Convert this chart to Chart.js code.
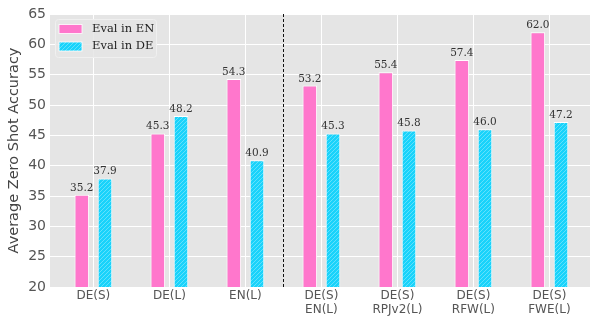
<!DOCTYPE html>
<html>
<head>
<meta charset="utf-8">
<script src="https://cdn.jsdelivr.net/npm/chart.js@4"></script>
<style>
  body { margin: 0; background: #fff; }
</style>
</head>
<body>
<canvas id="myChart" width="590" height="316"></canvas>
<script>
var categories = ['DE(S)', 'DE(L)', 'EN(L)', ['DE(S)', 'EN(L)'], ['DE(S)', 'RPJv2(L)'], ['DE(S)', 'RFW(L)'], ['DE(S)', 'FWE(L)']];
var evalEN = [35.2, 45.3, 54.3, 53.2, 55.4, 57.4, 62.0];
var evalDE = [37.9, 48.2, 40.9, 45.3, 45.8, 46.0, 47.2];
var seriesNames = ['Eval in EN', 'Eval in DE'];
var yTicks = [20, 25, 30, 35, 40, 45, 50, 55, 60, 65];
var splitAt = 2.5; // dashed line between single and mixed runs

var pink = '#ff77cc';
var cyan = '#19d3fb';

// hatched fill for the DE bars
function hatch(color) {
  var c = document.createElement('canvas');
  c.width = 4;
  c.height = 4;
  var g = c.getContext('2d');
  g.fillStyle = color;
  g.fillRect(0, 0, 4, 4);
  g.strokeStyle = 'rgba(255,255,255,0.45)';
  g.lineWidth = 0.7;
  g.beginPath();
  g.moveTo(0, 4); g.lineTo(4, 0);
  g.moveTo(-1, 1); g.lineTo(1, -1);
  g.moveTo(3, 5); g.lineTo(5, 3);
  g.stroke();
  return g.createPattern(c, 'repeat');
}

function points(vals) {
  return vals.map((v, i) => ({x: i, y: v}));
}

var plotBg = {
  id: 'plotBg',
  beforeDraw(chart) {
    var a = chart.chartArea, ctx = chart.ctx;
    ctx.save();
    ctx.fillStyle = '#e5e5e5';
    ctx.fillRect(a.left, a.top, a.right - a.left, a.bottom - a.top);
    ctx.restore();
  }
};

var extras = {
  id: 'extras',
  afterDatasetsDraw(chart) {
    var ctx = chart.ctx, a = chart.chartArea;
    ctx.save();
    // dashed divider
    var x = chart.scales.x.getPixelForValue(splitAt);
    ctx.strokeStyle = '#111';
    ctx.lineWidth = 1;
    ctx.setLineDash([3, 2]);
    ctx.beginPath();
    ctx.moveTo(Math.round(x) + 0.5, a.top);
    ctx.lineTo(Math.round(x) + 0.5, a.bottom);
    ctx.stroke();
    ctx.setLineDash([]);

    // value labels
    ctx.font = '10.5px "DejaVu Serif"';
    ctx.fillStyle = '#333';
    ctx.textAlign = 'center';
    ctx.textBaseline = 'bottom';
    chart.data.datasets.forEach((ds, di) => {
      chart.getDatasetMeta(di).data.forEach((bar, i) => {
        ctx.fillText(ds.data[i].y.toFixed(1), bar.x, bar.y - 1.5);
      });
    });

    // legend box
    var bx = a.left + 5, by = a.top + 5, bw = 101, bh = 38;
    ctx.fillStyle = 'rgba(229,229,229,0.85)';
    ctx.strokeStyle = '#f0f0f0';
    ctx.beginPath();
    ctx.roundRect(bx + 0.5, by + 0.5, bw, bh, 3);
    ctx.fill();
    ctx.stroke();
    ctx.font = '11.5px "DejaVu Serif"';
    ctx.textAlign = 'left';
    ctx.textBaseline = 'middle';
    chart.data.datasets.forEach((ds, di) => {
      var ry = by + 10 + di * 17.5;
      ctx.fillStyle = ds.backgroundColor;
      ctx.fillRect(bx + 4, ry - 4.5, 23, 9);
      ctx.strokeStyle = '#fff';
      ctx.lineWidth = 0.8;
      ctx.strokeRect(bx + 4, ry - 4.5, 23, 9);
      ctx.fillStyle = '#222';
      ctx.fillText(ds.label, bx + 37, ry);
    });
    ctx.restore();
  }
};

var chart = new Chart(document.getElementById('myChart'), {
  type: 'bar',
  data: {
    datasets: [{
      label: seriesNames[0],
      data: points(evalEN),
      backgroundColor: pink,
      borderColor: '#fff',
      borderWidth: 1
    }, {
      label: seriesNames[1],
      data: points(evalDE),
      backgroundColor: hatch(cyan),
      borderColor: '#fff',
      borderWidth: 1
    }]
  },
  options: {
    responsive: false,
    animation: false,
    categoryPercentage: 0.61,
    barPercentage: 0.63,
    layout: { padding: { top: 14, right: 0, left: 0, bottom: 0 } },
    plugins: {
      legend: { display: false },
      tooltip: { enabled: false }
    },
    scales: {
      x: {
        type: 'linear',
        offset: false,
        min: -0.571,
        max: 6.534,
        afterBuildTicks: axis => { axis.ticks = categories.map((c, i) => ({value: i})); },
        afterFit: s => { s.height = 29; },
        ticks: {
          autoSkip: false,
          maxRotation: 0,
          padding: 2,
          color: '#555',
          font: { family: 'DejaVu Sans', size: 12, lineHeight: 1.15 },
          callback: v => categories[v]
        },
        grid: { color: '#fff', lineWidth: 1, drawTicks: false, offset: false },
        border: { display: false }
      },
      y: {
        min: 20,
        max: 65,
        afterBuildTicks: axis => { axis.ticks = yTicks.map(v => ({value: v})); },
        afterFit: s => { s.width = 50; },
        ticks: {
          padding: 4,
          color: '#555',
          font: { family: 'DejaVu Sans', size: 14 }
        },
        grid: { color: '#fff', lineWidth: 1, drawTicks: false },
        border: { display: false },
        title: {
          display: true,
          text: 'Average Zero Shot Accuracy',
          color: '#444',
          font: { family: 'DejaVu Sans', size: 14.5 },
          padding: { top: 6, bottom: 0 }
        }
      }
    }
  },
  plugins: [plotBg, extras]
});
</script>
</body>
</html>
